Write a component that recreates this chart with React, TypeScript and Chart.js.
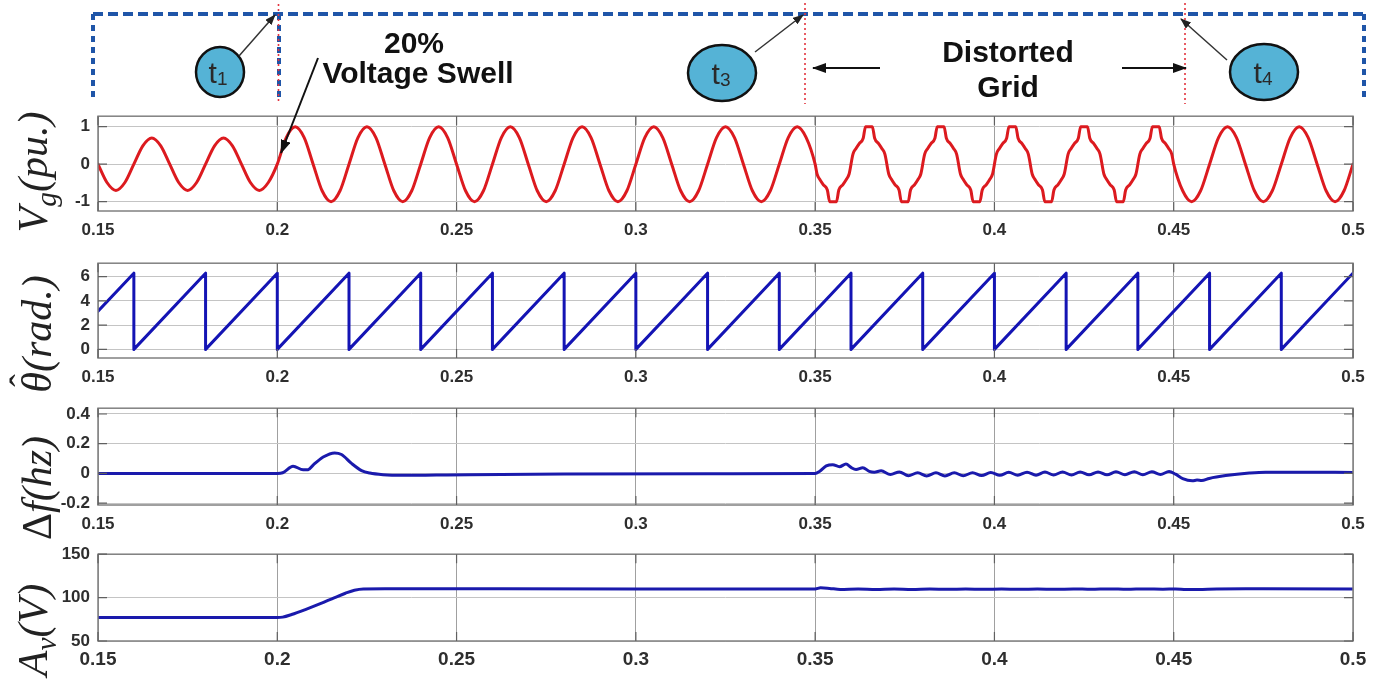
import React, { useEffect, useRef } from "react";
import { Chart, registerables } from "chart.js";

Chart.register(...registerables);

// ---------------- data ----------------
const xTickValues = [0.15, 0.2, 0.25, 0.3, 0.35, 0.4, 0.45, 0.5];
const vgTickValues = [-1, 0, 1];
const thetaTickValues = [0, 2, 4, 6];
const dfTickValues = [-0.2, 0, 0.2, 0.4];
const avTickValues = [50, 100, 150];

// Grid voltage (p.u.) before the swell
const vgPreSwell: [number, number][] = [
  [0.15, 0], [0.1525, -0.49], [0.155, -0.7], [0.1575, -0.49], [0.16, 0], [0.1625, 0.49], [0.165, 0.7], [0.1675, 0.49],
  [0.17, 0], [0.1725, -0.49], [0.175, -0.7], [0.1775, -0.49], [0.18, 0], [0.1825, 0.49], [0.185, 0.7], [0.1875, 0.49],
  [0.19, 0], [0.1925, -0.49], [0.195, -0.7], [0.1975, -0.49],
];
// Grid voltage after the 20% swell
const vgSwell: [number, number][] = [
  [0.2, 0], [0.2025, 0.71], [0.205, 1], [0.2075, 0.71], [0.21, 0], [0.2125, -0.71], [0.215, -1], [0.2175, -0.71],
  [0.22, 0], [0.2225, 0.71], [0.225, 1], [0.2275, 0.71], [0.23, 0], [0.2325, -0.71], [0.235, -1], [0.2375, -0.71],
  [0.24, 0], [0.2425, 0.71], [0.245, 1], [0.2475, 0.71], [0.25, 0], [0.2525, -0.71], [0.255, -1], [0.2575, -0.71],
  [0.26, 0], [0.2625, 0.71], [0.265, 1], [0.2675, 0.71], [0.27, 0], [0.2725, -0.71], [0.275, -1], [0.2775, -0.71],
  [0.28, 0], [0.2825, 0.71], [0.285, 1], [0.2875, 0.71], [0.29, 0], [0.2925, -0.71], [0.295, -1], [0.2975, -0.71],
  [0.3, 0], [0.3025, 0.71], [0.305, 1], [0.3075, 0.71], [0.31, 0], [0.3125, -0.71], [0.315, -1], [0.3175, -0.71],
  [0.32, 0], [0.3225, 0.71], [0.325, 1], [0.3275, 0.71], [0.33, 0], [0.3325, -0.71], [0.335, -1], [0.3375, -0.71],
  [0.34, 0], [0.3425, 0.71], [0.345, 1], [0.3475, 0.71],
];
// Distorted grid (0.35 - 0.45)
const vgDistorted: [number, number][] = [
  [0.35, 0],
  [0.35055, -0.27], [0.3514, -0.42], [0.3523, -0.55], [0.3534, -0.69], [0.35405, -1], [0.35595, -1], [0.3566, -0.69], [0.3577, -0.55], [0.3586, -0.42], [0.35945, -0.27],
  [0.36055, 0.27], [0.3614, 0.42], [0.3623, 0.55], [0.3634, 0.69], [0.36405, 1], [0.36595, 1], [0.3666, 0.69], [0.3677, 0.55], [0.3686, 0.42], [0.36945, 0.27],
  [0.37055, -0.27], [0.3714, -0.42], [0.3723, -0.55], [0.3734, -0.69], [0.37405, -1], [0.37595, -1], [0.3766, -0.69], [0.3777, -0.55], [0.3786, -0.42], [0.37945, -0.27],
  [0.38055, 0.27], [0.3814, 0.42], [0.3823, 0.55], [0.3834, 0.69], [0.38405, 1], [0.38595, 1], [0.3866, 0.69], [0.3877, 0.55], [0.3886, 0.42], [0.38945, 0.27],
  [0.39055, -0.27], [0.3914, -0.42], [0.3923, -0.55], [0.3934, -0.69], [0.39405, -1], [0.39595, -1], [0.3966, -0.69], [0.3977, -0.55], [0.3986, -0.42], [0.39945, -0.27],
  [0.40055, 0.27], [0.4014, 0.42], [0.4023, 0.55], [0.4034, 0.69], [0.40405, 1], [0.40595, 1], [0.4066, 0.69], [0.4077, 0.55], [0.4086, 0.42], [0.40945, 0.27],
  [0.41055, -0.27], [0.4114, -0.42], [0.4123, -0.55], [0.4134, -0.69], [0.41405, -1], [0.41595, -1], [0.4166, -0.69], [0.4177, -0.55], [0.4186, -0.42], [0.41945, -0.27],
  [0.42055, 0.27], [0.4214, 0.42], [0.4223, 0.55], [0.4234, 0.69], [0.42405, 1], [0.42595, 1], [0.4266, 0.69], [0.4277, 0.55], [0.4286, 0.42], [0.42945, 0.27],
  [0.43055, -0.27], [0.4314, -0.42], [0.4323, -0.55], [0.4334, -0.69], [0.43405, -1], [0.43595, -1], [0.4366, -0.69], [0.4377, -0.55], [0.4386, -0.42], [0.43945, -0.27],
  [0.44055, 0.27], [0.4414, 0.42], [0.4423, 0.55], [0.4434, 0.69], [0.44405, 1], [0.44595, 1], [0.4466, 0.69], [0.4477, 0.55], [0.4486, 0.42], [0.44945, 0.27],
];
// Recovered grid (0.45 - 0.5)
const vgRecovered: [number, number][] = [
  [0.45, 0], [0.4525, -0.71], [0.455, -1], [0.4575, -0.71], [0.46, 0], [0.4625, 0.71], [0.465, 1], [0.4675, 0.71],
  [0.47, 0], [0.4725, -0.71], [0.475, -1], [0.4775, -0.71], [0.48, 0], [0.4825, 0.71], [0.485, 1], [0.4875, 0.71],
  [0.49, 0], [0.4925, -0.71], [0.495, -1], [0.4975, -0.71], [0.5, 0],
];

// Estimated phase angle (rad.)
const thetaPoints: [number, number][] = [
  [0.15, 3.14], [0.16, 6.28], [0.16, 0], [0.18, 6.28], [0.18, 0], [0.2, 6.28], [0.2, 0],
  [0.22, 6.28], [0.22, 0], [0.24, 6.28], [0.24, 0], [0.26, 6.28], [0.26, 0], [0.28, 6.28], [0.28, 0],
  [0.3, 6.28], [0.3, 0], [0.32, 6.28], [0.32, 0], [0.34, 6.28], [0.34, 0], [0.36, 6.28], [0.36, 0],
  [0.38, 6.28], [0.38, 0], [0.4, 6.28], [0.4, 0], [0.42, 6.28], [0.42, 0], [0.44, 6.28], [0.44, 0],
  [0.46, 6.28], [0.46, 0], [0.48, 6.28], [0.48, 0], [0.5, 6.28],
];

// Frequency deviation (hz)
const dfPoints: [number, number][] = [
  [0.15, 0], [0.2, 0], [0.2015, 0.004], [0.2044, 0.048], [0.2072, 0.024], [0.2086, 0.025], [0.21, 0.056],
  [0.2128, 0.11], [0.216, 0.138], [0.2179, 0.127], [0.2207, 0.067], [0.2235, 0.019], [0.2258, 0.002],
  [0.2295, -0.009], [0.2351, -0.013], [0.2444, -0.011], [0.2537, -0.009], [0.28, -0.005], [0.32, -0.002], [0.35, 0],
  [0.3512, 0.013], [0.3531, 0.05], [0.3549, 0.058], [0.3568, 0.045], [0.3586, 0.063], [0.36, 0.04], [0.3614, 0.026],
  [0.3633, 0.038], [0.3651, 0.014], [0.3665, 0.008], [0.3684, 0.017], [0.371, -0.008], [0.3735, 0.01], [0.376, -0.016],
  [0.3786, 0.004], [0.3811, -0.017], [0.3837, 0.004], [0.3862, -0.017], [0.3888, 0.004], [0.3913, -0.016], [0.3939, 0.004],
  [0.3964, -0.015], [0.399, 0.006], [0.4015, -0.013], [0.404, 0.007], [0.4065, -0.012], [0.4091, 0.008], [0.4116, -0.012],
  [0.4141, 0.009], [0.4165, -0.011], [0.419, 0.009], [0.4215, -0.011], [0.4239, 0.01], [0.4264, -0.01], [0.4289, 0.01],
  [0.4314, -0.01], [0.4339, 0.011], [0.4364, -0.009], [0.439, 0.011], [0.4414, -0.009], [0.4439, 0.011], [0.4463, -0.007],
  [0.4487, 0.012], [0.4505, -0.005], [0.4525, -0.035], [0.4552, -0.05], [0.4565, -0.045], [0.4578, -0.048], [0.4599, -0.034],
  [0.4645, -0.015], [0.4711, 0.002], [0.4756, 0.008], [0.485, 0.008], [0.5, 0.006],
];

// Voltage amplitude (V)
const avPoints: [number, number][] = [
  [0.15, 77], [0.2, 77], [0.2015, 77.5], [0.204, 80.5], [0.208, 86.5], [0.212, 93], [0.216, 100], [0.219, 105],
  [0.2215, 108.5], [0.224, 110], [0.23, 110.2], [0.3, 110], [0.35, 110], [0.3515, 111.3], [0.354, 110.6], [0.357, 109.4],
  [0.362, 109.9], [0.367, 109.3], [0.372, 109.9], [0.377, 109.4], [0.382, 110], [0.387, 109.5], [0.392, 110], [0.397, 109.5],
  [0.402, 110], [0.407, 109.5], [0.412, 110], [0.417, 109.5], [0.422, 110], [0.427, 109.6], [0.432, 110], [0.437, 109.6],
  [0.442, 110], [0.447, 109.7], [0.4505, 110], [0.4535, 109.2], [0.457, 109.3], [0.462, 109.9], [0.47, 110.2], [0.5, 110],
];

const vgPoints = [...vgPreSwell, ...vgSwell, ...vgDistorted, ...vgRecovered];

// ---------------- chart helpers ----------------
const W = 1383;
const FONT_FAMILY = "'Liberation Sans', Arial, sans-serif";

const framePlugin = {
  id: "matlabFrame",
  afterDatasetsDraw(chart: any) {
    const { ctx, chartArea, scales } = chart;
    const { left, right, top, bottom } = chartArea;
    ctx.save();
    ctx.strokeStyle = "#808080";
    ctx.lineWidth = 1.5;
    ctx.strokeRect(left, top, right - left, bottom - top);
    ctx.strokeStyle = "#606060";
    ctx.lineWidth = 1.2;
    ctx.beginPath();
    scales.y.ticks.forEach((t: any) => {
      const y = scales.y.getPixelForValue(t.value);
      ctx.moveTo(left, y); ctx.lineTo(left + 9, y);
      ctx.moveTo(right - 9, y); ctx.lineTo(right, y);
    });
    scales.x.ticks.forEach((t: any) => {
      const x = scales.x.getPixelForValue(t.value);
      ctx.moveTo(x, bottom); ctx.lineTo(x, bottom - 9);
      ctx.moveTo(x, top); ctx.lineTo(x, top + 9);
    });
    ctx.stroke();
    ctx.restore();
  },
};

type PanelProps = {
  top: number;
  height: number;
  points: [number, number][];
  color: string;
  lineWidth: number;
  yMin: number;
  yMax: number;
  yTicks: number[];
  smooth: boolean;
  xFontSize: number;
};

function Panel(p: PanelProps) {
  const ref = useRef<HTMLCanvasElement | null>(null);
  useEffect(() => {
    if (!ref.current) return;
    const chart = new Chart(ref.current, {
      type: "line",
      data: {
        datasets: [
          {
            data: p.points.map(([x, y]) => ({ x, y })),
            borderColor: p.color,
            borderWidth: p.lineWidth,
            pointRadius: 0,
            fill: false,
            tension: p.smooth ? 0.4 : 0,
            cubicInterpolationMode: p.smooth ? "monotone" : "default",
            borderJoinStyle: "round",
            borderCapStyle: "round",
          } as any,
        ],
      },
      options: {
        responsive: false,
        animation: false,
        events: [],
        layout: { padding: { top: 14, right: 30, bottom: 0, left: 0 } },
        plugins: { legend: { display: false }, tooltip: { enabled: false }, title: { display: false } },
        scales: {
          x: {
            type: "linear",
            min: 0.15,
            max: 0.5,
            afterBuildTicks: (axis: any) => {
              axis.ticks = xTickValues.map((v) => ({ value: v }));
            },
            afterFit: (axis: any) => {
              axis.height = 36;
            },
            ticks: {
              autoSkip: false,
              maxRotation: 0,
              padding: p.xFontSize > 17 ? 7 : 9,
              color: "#2e2e2e",
              font: { family: FONT_FAMILY, size: p.xFontSize, weight: "bold" },
              callback: (v: any) => String(v),
            },
            grid: { color: "#a0a0a0", lineWidth: 1, drawTicks: false },
            border: { display: false },
          },
          y: {
            type: "linear",
            min: p.yMin,
            max: p.yMax,
            afterBuildTicks: (axis: any) => {
              axis.ticks = p.yTicks.map((v) => ({ value: v }));
            },
            afterFit: (axis: any) => {
              axis.width = 98;
            },
            ticks: {
              padding: 8,
              color: "#2e2e2e",
              font: { family: FONT_FAMILY, size: 17, weight: "bold" },
              callback: (v: any) => String(v),
            },
            grid: { color: "#c4c4c4", lineWidth: 1, drawTicks: false },
            border: { display: false },
          },
        },
      } as any,
      plugins: [framePlugin],
    });
    return () => chart.destroy();
  }, []);
  return (
    <canvas
      ref={ref}
      width={W}
      height={p.height}
      style={{ position: "absolute", left: 0, top: p.top, width: W, height: p.height }}
    />
  );
}

const labelBase: React.CSSProperties = {
  position: "absolute",
  transform: "translate(-50%, -50%) rotate(-90deg)",
  fontFamily: "'Liberation Serif', 'DejaVu Serif', serif",
  fontStyle: "italic",
  fontSize: 42,
  lineHeight: 1,
  whiteSpace: "nowrap",
  color: "#222",
};

function AxisLabel({ x, y, children }: { x: number; y: number; children: React.ReactNode }) {
  return <div style={{ ...labelBase, left: x, top: y }}>{children}</div>;
}

function Annotations() {
  const blue = "#1f55a8";
  const red = "#e3343f";
  const circleFill = "#55b3d6";
  const bold = { fontFamily: FONT_FAMILY, fontWeight: 700, fontSize: 30, fill: "#111" } as any;
  const tFont = { fontFamily: FONT_FAMILY, fontSize: 30, fill: "#2a2a2a" } as any;
  return (
    <svg
      width={W}
      height={160}
      style={{ position: "absolute", left: 0, top: 0, overflow: "visible", pointerEvents: "none" }}
    >
      <defs>
        <marker id="ahBig" markerWidth="14" markerHeight="10" refX="13" refY="5" orient="auto" markerUnits="userSpaceOnUse">
          <path d="M0,0 L14,5 L0,10 z" fill="#111" />
        </marker>
        <marker id="ahSmall" markerWidth="11" markerHeight="8" refX="10" refY="4" orient="auto" markerUnits="userSpaceOnUse">
          <path d="M0,0 L11,4 L0,8 z" fill="#222" />
        </marker>
      </defs>
      {/* dashed frame */}
      <line x1={93} y1={14} x2={1364} y2={14} stroke={blue} strokeWidth={4} strokeDasharray="10 5" />
      <line x1={93} y1={14} x2={93} y2={101} stroke={blue} strokeWidth={4} strokeDasharray="6 5" />
      <line x1={1364} y1={14} x2={1364} y2={101} stroke={blue} strokeWidth={4} strokeDasharray="6 5" />
      <line x1={279} y1={14} x2={279} y2={101} stroke={blue} strokeWidth={4} strokeDasharray="6 5" />
      {/* red event markers */}
      <line x1={278.5} y1={4} x2={278.5} y2={104} stroke={red} strokeWidth={1.6} strokeDasharray="2 3" />
      <line x1={805} y1={3} x2={805} y2={104} stroke={red} strokeWidth={1.6} strokeDasharray="2 3" />
      <line x1={1185} y1={3} x2={1185} y2={104} stroke={red} strokeWidth={1.6} strokeDasharray="2 3" />
      {/* circles */}
      <ellipse cx={220} cy={72} rx={24} ry={25} fill={circleFill} stroke="#111" strokeWidth={2.5} />
      <ellipse cx={722} cy={73} rx={34} ry={28} fill={circleFill} stroke="#111" strokeWidth={2.5} />
      <ellipse cx={1264} cy={72} rx={34} ry={28} fill={circleFill} stroke="#111" strokeWidth={2.5} />
      <text x={218} y={83} textAnchor="middle" {...tFont}>
        t<tspan fontSize={19} dy={2}>1</tspan>
      </text>
      <text x={721} y={84} textAnchor="middle" {...tFont}>
        t<tspan fontSize={19} dy={2}>3</tspan>
      </text>
      <text x={1263} y={83} textAnchor="middle" {...tFont}>
        t<tspan fontSize={19} dy={2}>4</tspan>
      </text>
      {/* arrows */}
      <line x1={239} y1={56} x2={275} y2={15} stroke="#333" strokeWidth={1.5} markerEnd="url(#ahSmall)" />
      <line x1={755} y1={52} x2={803} y2={15} stroke="#333" strokeWidth={1.5} markerEnd="url(#ahSmall)" />
      <line x1={1227} y1={60} x2={1181} y2={19} stroke="#333" strokeWidth={1.5} markerEnd="url(#ahSmall)" />
      <line x1={880} y1={68} x2={813} y2={68} stroke="#111" strokeWidth={2} markerEnd="url(#ahBig)" />
      <line x1={1122} y1={68} x2={1186} y2={68} stroke="#111" strokeWidth={2} markerEnd="url(#ahBig)" />
      <line x1={318} y1={58} x2={281} y2={153} stroke="#111" strokeWidth={2} markerEnd="url(#ahBig)" />
      {/* texts */}
      <text x={414} y={53} textAnchor="middle" {...bold}>20%</text>
      <text x={418} y={83} textAnchor="middle" {...bold}>Voltage Swell</text>
      <text x={1008} y={62} textAnchor="middle" {...bold}>Distorted</text>
      <text x={1008} y={97} textAnchor="middle" {...bold}>Grid</text>
    </svg>
  );
}

export default function App() {
  return (
    <div style={{ position: "absolute", left: 0, top: 0, width: W, height: 683, background: "#fff", overflow: "hidden" }}>
      <Panel top={98} height={149} points={vgPoints} color="#dc1a1f" lineWidth={3} yMin={-1.25} yMax={1.28} yTicks={vgTickValues} smooth={true} xFontSize={17} />
      <Panel top={245} height={149} points={thetaPoints} color="#1414b4" lineWidth={3} yMin={-0.71} yMax={7.1} yTicks={thetaTickValues} smooth={false} xFontSize={17} />
      <Panel top={390} height={151} points={dfPoints} color="#1a1aac" lineWidth={3} yMin={-0.213} yMax={0.439} yTicks={dfTickValues} smooth={true} xFontSize={17} />
      <Panel top={536} height={141} points={avPoints} color="#1a1aac" lineWidth={3} yMin={50} yMax={150} yTicks={avTickValues} smooth={true} xFontSize={19} />
      <Annotations />
      <AxisLabel x={37} y={172}>
        V<sub style={{ fontSize: "0.7em" }}>g</sub>(pu.)
      </AxisLabel>
      <AxisLabel x={37} y={334}>
        <span style={{ position: "relative", display: "inline-block" }}>
          {"\u03B8"}
          <span style={{ position: "absolute", left: "0.16em", top: "-0.3em", fontStyle: "normal", fontSize: "0.9em" }}>
            {"\u02C6"}
          </span>
        </span>
        (rad.)
      </AxisLabel>
      <AxisLabel x={37} y={488}>
        <span style={{ fontStyle: "normal" }}>{"\u0394"}</span>f(hz)
      </AxisLabel>
      <AxisLabel x={37} y={630}>
        A<sub style={{ fontSize: "0.7em" }}>v</sub>(V)
      </AxisLabel>
    </div>
  );
}
